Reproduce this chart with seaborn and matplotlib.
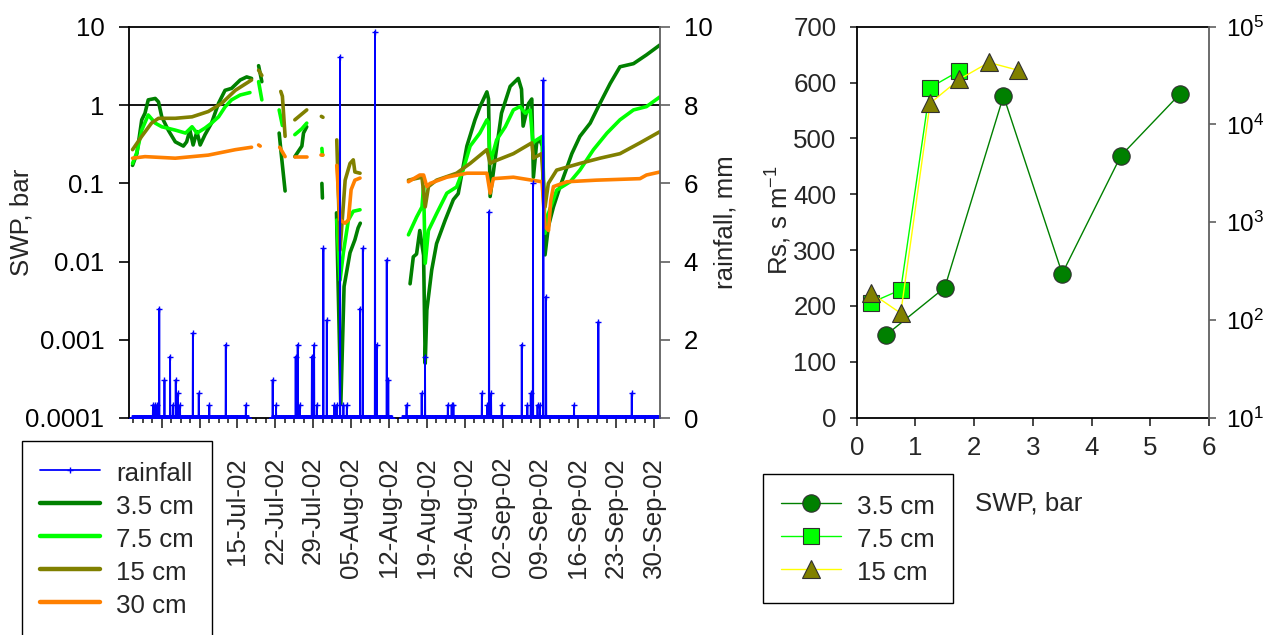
import numpy as np
import pandas as pd
import matplotlib
matplotlib.use("Agg")
import matplotlib.pyplot as plt
import matplotlib.dates as mdates
from matplotlib.lines import Line2D
from matplotlib.ticker import FixedLocator, FuncFormatter, NullLocator, LogLocator
import seaborn as sns

START = pd.Timestamp("2002-07-01")

# ---------------- left panel: soil water potential (days after 01-Jul-02, bar), nan = gap
d35_day = [-5.4, -4.6, -3.7, -3.1, -2.5, -1.2, -0.6, 0.0, 1.2, 2.5, 4.0, 4.6, 5.2, 5.8, 6.5, 7.1,
           8.0, 9.2, 10.5, 11.7, 12.9, 14.5, 15.7, 16.6, np.nan,
           17.9, 18.5, np.nan,
           21.7, 22.2, 22.8, np.nan,
           24.6, 25.9, 26.2, 26.8, np.nan,
           29.6, 29.7, np.nan,
           32.3, 33.1, 33.7, 34.8, 35.7, 36.3, 36.7, np.nan,
           45.9, 46.5, 47.1, 47.7, 48.4, 48.7, 49.0, 49.9, 50.8, 52.4, 53.9, 54.8, 56.4, 57.9,
           58.8, 60.1, 60.4, 60.7, 61.6, 62.8, 64.4, 65.9, 66.5, 66.8, 67.8, 68.4, 68.7, 69.3,
           69.9, 70.35, 70.85, 71.46, 72.4, 73.6, 74.9, 75.8, 77.3, 79.2, 80.7, 82.9, 84.7,
           87.2, 89.6, 92.1]
d35_swp = [0.17, 0.24, 0.65, 0.79, 1.17, 1.22, 1.1, 0.71, 0.48, 0.34, 0.30, 0.34, 0.48, 0.31, 0.46, 0.31,
           0.42, 0.59, 1.06, 1.55, 1.64, 2.1, 2.3, 2.2, np.nan,
           3.2, 2.0, np.nan,
           0.44, 0.2, 0.08, np.nan,
           0.22, 0.30, 0.44, 0.53, np.nan,
           0.10, 0.065, np.nan,
           0.042, 0.00015, 0.0048, 0.013, 0.019, 0.027, 0.031, np.nan,
           0.0052, 0.0115, 0.0125, 0.025, 0.012, 0.0005, 0.0024, 0.0078, 0.017, 0.034, 0.062, 0.074, 0.30, 0.65,
           0.95, 1.48, 1.2, 0.068, 0.2, 0.79, 1.74, 2.2, 1.6, 0.54, 1.05, 1.2, 0.12, 0.33,
           0.36, 0.30, 0.0122, 0.028, 0.05, 0.09, 0.16, 0.24, 0.40, 0.59, 0.96, 1.9, 3.1,
           3.4, 4.4, 5.9]

d75_day = [-5.4, -4.6, -3.7, -2.5, -1.2, 0.0, 2.5, 4.4, 5.6, 6.5, 8.0, 9.2, 10.5, 11.7, 12.9, 14.5, 16.3, np.nan,
           17.9, 18.5, np.nan,
           21.7, 22.3, np.nan,
           24.6, 25.9, 26.8, np.nan,
           29.6, 29.7, np.nan,
           32.35, 32.96, 33.57, 34.5, 35.4, 36.65, np.nan,
           45.6, 47.1, 48.1, 48.4, 48.7, 49.3, 50.8, 52.7, 54.5, 55.7, 57.0, 58.8, 60.1, 60.4, 60.7,
           61.9, 63.5, 65.0, 66.2, 67.2, 68.1, 68.6, 69.3, 70.35, 70.85, 71.46, 73.0, 75.5, 77.3,
           79.8, 82.3, 84.7, 87.2, 89.6, 92.1]
d75_swp = [0.18, 0.25, 0.48, 0.75, 0.59, 0.53, 0.48, 0.44, 0.53, 0.44, 0.51, 0.59, 0.71, 0.95, 1.17, 1.35, 1.45, np.nan,
           2.0, 1.17, np.nan,
           0.87, 0.55, np.nan,
           0.42, 0.50, 0.59, np.nan,
           0.28, 0.23, np.nan,
           0.034, 0.0058, 0.013, 0.034, 0.044, 0.046, np.nan,
           0.022, 0.037, 0.05, 0.091, 0.0095, 0.025, 0.041, 0.075, 0.09, 0.148, 0.30, 0.44, 0.65, 0.6, 0.18,
           0.36, 0.53, 0.87, 0.96, 0.79, 0.87, 0.33, 0.36, 0.40, 0.023, 0.041, 0.082, 0.105, 0.148,
           0.27, 0.44, 0.65, 0.87, 0.96, 1.28]

d15_day = [-5.4, -3.7, -1.9, -0.6, 2.5, 5.6, 8.6, 11.1, 13.6, 16.6, np.nan,
           17.9, 18.5, np.nan,
           22.0, 22.3, 22.8, np.nan,
           24.6, 26.8, np.nan,
           29.5, 29.8, np.nan,
           32.35, 32.96, 33.9, 34.8, 35.4, 35.7, 36.65, np.nan,
           45.6, 48.1, 48.7, 49.3, 50.8, 54.5, 57.0, 60.1, 60.7, 61.3, 65.0, 68.4, 68.7, 70.2,
           70.85, 71.46, 73.0, 77.3, 81.0, 84.7, 88.4, 92.1]
d15_swp = [0.27, 0.40, 0.59, 0.68, 0.68, 0.71, 0.83, 1.06, 1.55, 2.1, np.nan,
           2.8, 2.4, np.nan,
           1.5, 1.3, 0.40, np.nan,
           0.65, 0.87, np.nan,
           0.72, 0.70, np.nan,
           0.36, 0.014, 0.11, 0.18, 0.20, 0.14, 0.135, np.nan,
           0.11, 0.12, 0.05, 0.091, 0.11, 0.135, 0.18, 0.27, 0.18, 0.19, 0.24, 0.33, 0.21, 0.24,
           0.05, 0.10, 0.148, 0.18, 0.21, 0.24, 0.33, 0.46]

d30_day = [-5.4, -3.1, 2.5, 8.6, 13.6, 16.6, np.nan,
           17.9, 18.2, np.nan,
           21.8, 22.8, np.nan,
           24.6, 26.8, np.nan,
           29.5, 29.8, np.nan,
           32.35, 32.96, 33.9, 34.5, 35.0, 35.7, 36.65, np.nan,
           45.6, 47.7, 48.4, 49.0, 49.6, 52.7, 56.4, 60.1, 60.7, 61.3, 65.0, 68.4, 70.3,
           70.85, 71.5, 71.9, 72.4, 74.9, 80.3, 88.4, 89.6, 92.1]
d30_swp = [0.21, 0.22, 0.21, 0.23, 0.27, 0.29, np.nan,
           0.31, 0.30, np.nan,
           0.29, 0.22, np.nan,
           0.22, 0.22, np.nan,
           0.23, 0.23, np.nan,
           0.17, 0.034, 0.031, 0.034, 0.083, 0.11, 0.117, np.nan,
           0.105, 0.128, 0.128, 0.091, 0.10, 0.12, 0.135, 0.135, 0.075, 0.115, 0.12, 0.11, 0.105,
           0.028, 0.025, 0.06, 0.091, 0.105, 0.11, 0.115, 0.128, 0.14]

# rainfall events (days after 01-Jul-02, mm) and logged periods
rain_day = [-1.61, -1.24, -0.87, -0.44, 0.48, 1.53, 2.03, 2.59, 2.96, 3.38, 5.73, 6.84, 8.80, 11.83,
            15.53, 20.52, 21.13, 24.77, 25.14, 25.56, 27.73, 28.15, 28.65, 29.87, 30.50, 31.90,
            32.35, 32.96, 33.57, 34.20, 36.65, 37.15, 39.43, 39.74, 41.59, 41.89, 45.25, 48.06,
            48.67, 52.87, 53.60, 53.90, 59.15, 60.18, 60.50, 60.87, 62.85, 66.54, 67.58, 68.21,
            68.63, 69.46, 69.93, 70.54, 71.03, 76.21, 80.70, 86.88]
rain_mm = [0.33, 0.33, 0.33, 2.8, 0.97, 1.57, 0.33, 0.97, 0.63, 0.33, 2.17, 0.63, 0.33, 1.87,
           0.33, 0.97, 0.33, 1.57, 1.87, 0.33, 1.57, 1.87, 0.33, 4.34, 2.5, 0.33,
           0.33, 9.24, 0.33, 0.33, 2.8, 4.34, 9.88, 1.87, 4.04, 0.97, 0.33, 0.63,
           1.57, 0.33, 0.33, 0.33, 0.63, 0.33, 5.28, 0.63, 0.33, 1.87, 0.33, 0.63,
           6.0, 0.33, 0.33, 8.64, 3.1, 0.33, 2.46, 0.63]
rain_periods = [(-5.5, 16.0), (20.3, 42.5), (44.4, 92.1)]

# ---------------- right panel: stomatal resistance vs SWP
swp_35 = [0.5, 1.5, 2.5, 3.5, 4.5, 5.5]
rs_35 = [148, 233, 576, 258, 469, 579]
swp_75 = [0.25, 0.75, 1.25, 1.75]
rs_75 = [206, 229, 591, 621]
swp_15 = [0.25, 0.75, 1.25, 1.75, 2.25, 2.75]
rs_15 = [223, 187, 563, 606, 636, 622]

depths = ["3.5 cm", "7.5 cm", "15 cm", "30 cm"]
colors = {"3.5 cm": "#008000", "7.5 cm": "#00ff00", "15 cm": "#808000", "30 cm": "#ff8000"}

# long table, one unit per unbroken stretch of logging
frames = []
for name, day, swp in zip(depths, [d35_day, d75_day, d15_day, d30_day],
                          [d35_swp, d75_swp, d15_swp, d30_swp]):
    swp = np.array(swp, dtype=float)
    seg = np.cumsum(np.isnan(swp))
    f = pd.DataFrame({"day": np.array(day, dtype=float), "swp": swp,
                      "depth": name, "unit": [f"{name}-{s}" for s in seg]})
    frames.append(f.dropna())
swp_df = pd.concat(frames, ignore_index=True)
swp_df["date"] = START + pd.to_timedelta(swp_df["day"], unit="D")

hours = pd.date_range(START - pd.Timedelta(days=5.5), START + pd.Timedelta(days=92.1), freq="h")
rain = pd.Series(np.nan, index=hours)
for a, b in rain_periods:
    rain[(hours >= START + pd.Timedelta(days=a)) & (hours <= START + pd.Timedelta(days=b))] = 0.0
ev = (START + pd.to_timedelta(rain_day, unit="D")).round("h")
rain.loc[ev] = rain_mm

# ---------------- style
sns.set_style("ticks")
plt.rcParams["font.family"] = ["Liberation Sans", "DejaVu Sans"]
plt.rcParams["mathtext.fontset"] = "custom"
plt.rcParams["mathtext.rm"] = "Liberation Sans"
plt.rcParams["mathtext.default"] = "regular"
FS = 18.6
W, H = 1268, 635
leg_kw = dict(loc="upper left", fontsize=FS, frameon=True, fancybox=False, framealpha=1,
              edgecolor="black", borderpad=0.7, labelspacing=0.235, handleheight=1.2,
              handlelength=2.35, handletextpad=0.6, borderaxespad=0)

fig = plt.figure(figsize=(W / 100, H / 100), dpi=100)

# ================= left panel
ax = fig.add_axes([129.3 / W, 1 - 418 / H, 530.7 / W, 391 / H])
sns.lineplot(data=swp_df, x="date", y="swp", hue="depth", units="unit", estimator=None,
             hue_order=depths, palette=colors, lw=2.6, legend=False, sort=False,
             solid_capstyle="round", solid_joinstyle="round", ax=ax)
ax.set_yscale("log")
ax.set_ylim(1e-4, 10)
ax.yaxis.set_major_locator(FixedLocator([1e-4, 1e-3, 1e-2, 1e-1, 1, 10]))
ax.yaxis.set_major_formatter(FuncFormatter(lambda v, p: f"{v:g}"))
ax.yaxis.set_minor_locator(NullLocator())
ax.axhline(1, color="black", lw=1.3, zorder=1)
ax.set_xlim(START - pd.Timedelta(days=6), START + pd.Timedelta(days=92.1))
ax.xaxis.set_major_locator(mdates.WeekdayLocator(byweekday=mdates.MO))
first_label = mdates.date2num(pd.Timestamp("2002-07-15"))
ax.xaxis.set_major_formatter(FuncFormatter(
    lambda v, p: mdates.num2date(v).strftime("%d-%b-%y") if v >= first_label - 0.5 else ""))
ax.xaxis.set_minor_locator(FixedLocator(
    [mdates.date2num(START + pd.Timedelta(days=1.75 * k)) for k in range(-3, 54)]))
ax.set_xlabel("")
ax.set_ylabel("")
ax.tick_params(axis="y", direction="out", length=7, width=1.2, pad=11, labelsize=FS, colors="black")
ax.tick_params(axis="x", which="major", direction="out", length=7, width=1.2, pad=21,
               labelsize=FS, labelrotation=90)
ax.tick_params(axis="x", which="minor", direction="out", length=3.5, width=1.2)
for s in ["left", "top", "bottom"]:
    ax.spines[s].set_color("black")
    ax.spines[s].set_linewidth(1.3)
ax.spines["right"].set_visible(False)

ax2 = ax.twinx()
ax2.plot(rain.index, rain.values, color="#0000ff", lw=1.3, marker="+", ms=4.5, mew=1.0)
ax2.set_ylim(0, 10)
ax2.set_yticks(range(0, 11, 2))
ax2.tick_params(axis="y", direction="out", length=7, width=1.2, pad=10, labelsize=FS,
                color="#606060", labelcolor="black")
for s in ["left", "top", "bottom"]:
    ax2.spines[s].set_visible(False)
ax2.spines["right"].set_color("#606060")
ax2.spines["right"].set_linewidth(1.3)

fig.text(22 / W, 1 - 222 / H, "SWP, bar", rotation=90, ha="center", va="center", fontsize=FS)
fig.text(725 / W, 1 - 222 / H, "rainfall, mm", rotation=90, ha="center", va="center", fontsize=FS)

left_handles = [Line2D([], [], color="#0000ff", lw=1.3, marker="+", ms=5, mew=1)]
left_handles += [Line2D([], [], color=colors[d], lw=3.2) for d in depths]
fig.legend(left_handles, ["rainfall"] + depths, bbox_to_anchor=(21.7 / W, 1 - 440.7 / H), **leg_kw)

# ================= right panel
ax3 = fig.add_axes([856.7 / W, 1 - 417.7 / H, 352.3 / W, 391 / H])
mk = dict(mec="#303030", mew=0.8)
sns.lineplot(x=swp_35, y=rs_35, color="#008000", lw=1, marker="o", ms=12.5, mfc="#008000",
             label="3.5 cm", legend=False, ax=ax3, **mk)
sns.lineplot(x=swp_75, y=rs_75, color="#00ff00", lw=1, marker="s", ms=11, mfc="#00ff00",
             label="7.5 cm", legend=False, ax=ax3, **mk)
sns.lineplot(x=swp_15, y=rs_15, color="#ffff00", lw=1, marker="^", ms=13.5, mfc="#808000",
             label="15 cm", legend=False, ax=ax3, **mk)
ax3.set_xlim(0, 6)
ax3.set_ylim(0, 700)
ax3.set_xticks(range(0, 7))
ax3.set_yticks(range(0, 701, 100))
ax3.set_xlabel("")
ax3.set_ylabel("")
ax3.tick_params(axis="y", direction="out", length=5, width=1.2, pad=9.5, labelsize=FS)
ax3.tick_params(axis="x", direction="out", length=6, width=1.2, pad=7, labelsize=FS)
for s in ["left", "top", "bottom"]:
    ax3.spines[s].set_color("black")
    ax3.spines[s].set_linewidth(1.3)
ax3.spines["right"].set_visible(False)

ax4 = ax3.twinx()
ax4.set_yscale("log")
ax4.set_ylim(10, 1e5)
ax4.yaxis.set_major_locator(LogLocator(base=10, numticks=10))
ax4.yaxis.set_minor_locator(NullLocator())
ax4.tick_params(axis="y", direction="out", length=5, width=1.2, pad=7, labelsize=17.5,
                color="#606060", labelcolor="black")
for s in ["left", "top", "bottom"]:
    ax4.spines[s].set_visible(False)
ax4.spines["right"].set_color("#606060")
ax4.spines["right"].set_linewidth(1.3)

fig.text(779 / W, 1 - 220 / H, "Rs, s m$^{-1}$", rotation=90, ha="center", va="center", fontsize=FS)
fig.text(975 / W, 1 - 503 / H, "SWP, bar", ha="left", va="center", fontsize=FS)

h, l = ax3.get_legend_handles_labels()
fig.legend(h, l, bbox_to_anchor=(762.7 / W, 1 - 474 / H), **leg_kw)

fig.savefig("out.png", dpi=100)
